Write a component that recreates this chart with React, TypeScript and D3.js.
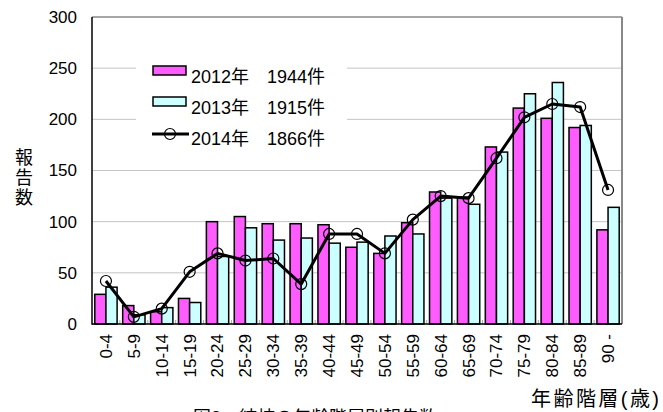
import React from "react";
import * as d3 from "d3";

const categories = ["0-4","5-9","10-14","15-19","20-24","25-29","30-34","35-39","40-44","45-49","50-54","55-59","60-64","65-69","70-74","75-79","80-84","85-89","90 -"];
const series2012 = [29,18,12,25,100,105,98,98,97,75,69,99,129,124,173,211,201,192,92];
const series2013 = [36,9,16,21,66,94,82,84,79,80,86,88,123,117,168,225,236,194,114];
const series2014 = [42,7,15,51,69,62,64,39,88,88,69,102,125,123,162,202,215,212,131];
const yTicks = [0,50,100,150,200,250,300];
const legendLabels = ["2012年　1944件","2013年　1915件","2014年　1866件"];

const W = 663, H = 412;
const M = { left: 92, right: 622, top: 17, bottom: 324 };
const PINK = "#FF5CFF";
const CYAN = "#CCFFFF";
const FONT = "'Liberation Sans', Arial, 'Noto Sans CJK JP', sans-serif";

export default function App() {
  const x = d3.scaleBand<string>().domain(categories).range([M.left, M.right]).paddingInner(0).paddingOuter(0);
  const y = d3.scaleLinear().domain([0, 300]).range([M.bottom, M.top]);
  const bw = x.bandwidth();
  const line = d3.line<number>()
    .x((_, i) => (x(categories[i]) as number) + bw / 2)
    .y((d) => y(d));

  return (
    <svg width={W} height={H} style={{ position: "absolute", left: 0, top: 0, background: "#fff" }} fontFamily={FONT}>
      <rect x={0} y={0} width={W} height={H} fill="#fff" />
      {/* grid */}
      {yTicks.filter((t) => t > 0 && t < 300).map((t) => (
        <line key={t} x1={M.left} x2={M.right} y1={y(t)} y2={y(t)} stroke="#c4c4c4" strokeWidth={1} />
      ))}
      {/* legend background */}
      <rect x={136} y={48} width={211} height={104} fill="#fff" />
      {/* bars */}
      {categories.map((c, i) => (
        <g key={c}>
          <rect x={(x(c) as number) + bw * 0.1} y={y(series2012[i])} width={bw * 0.4} height={y(0) - y(series2012[i])} fill={PINK} stroke="#000" strokeWidth={1.5} />
          <rect x={(x(c) as number) + bw * 0.5} y={y(series2013[i])} width={bw * 0.4} height={y(0) - y(series2013[i])} fill={CYAN} stroke="#000" strokeWidth={1.5} />
        </g>
      ))}
      {/* small category ticks */}
      {categories.slice(1).map((c) => (
        <line key={"t" + c} x1={x(c) as number} x2={x(c) as number} y1={M.bottom} y2={M.bottom - 4} stroke="#aaa" strokeWidth={1} />
      ))}
      {/* line */}
      <path d={line(series2014) || ""} fill="none" stroke="#000" strokeWidth={3} strokeLinejoin="round" />
      {series2014.map((v, i) => (
        <circle key={i} cx={(x(categories[i]) as number) + bw / 2} cy={y(v)} r={5.5} fill="none" stroke="#000" strokeWidth={1.2} />
      ))}
      {/* frame */}
      <line x1={M.left} x2={M.right} y1={M.top} y2={M.top} stroke="#888" strokeWidth={1.5} />
      <line x1={M.right} x2={M.right} y1={M.top} y2={M.bottom} stroke="#888" strokeWidth={2} />
      <line x1={M.left} x2={M.left} y1={M.top} y2={M.bottom + 0.75} stroke="#000" strokeWidth={1.5} />
      <line x1={M.left} x2={M.right} y1={M.bottom} y2={M.bottom} stroke="#000" strokeWidth={1.5} />
      {/* y tick labels */}
      {yTicks.map((t) => (
        <text key={t} x={77} y={y(t)} dy="0.35em" textAnchor="end" fontSize={17} fill="#000">{t}</text>
      ))}
      {/* x tick labels */}
      {categories.map((c) => (
        <text key={c} transform={`translate(${(x(c) as number) + bw / 2},334) rotate(-90)`} dy="0.35em" textAnchor="end" fontSize={17} fill="#000">{c}</text>
      ))}
      {/* legend */}
      <rect x={153} y={66} width={33} height={9} fill={PINK} stroke="#000" strokeWidth={1.5} />
      <text x={191} y={77} dy="0.35em" fontSize={18} fill="#000">{legendLabels[0]}</text>
      <rect x={153} y={97} width={33} height={9} fill={CYAN} stroke="#000" strokeWidth={1.5} />
      <text x={191} y={108} dy="0.35em" fontSize={18} fill="#000">{legendLabels[1]}</text>
      <line x1={152} x2={189} y1={134} y2={134} stroke="#000" strokeWidth={3} />
      <circle cx={170} cy={134} r={5.5} fill="none" stroke="#000" strokeWidth={1.2} />
      <text x={191} y={139} dy="0.35em" fontSize={18} fill="#000">{legendLabels[2]}</text>
      {/* y title */}
      {["報", "告", "数"].map((ch, i) => (
        <text key={ch} x={24} y={158 + i * 20} dy="0.35em" textAnchor="middle" fontSize={18} fill="#000">{ch}</text>
      ))}
      {/* x title */}
      <text x={531} y={406} fontSize={20} fill="#000" textLength={128} lengthAdjust="spacing">年齢階層(歳)</text>
      {/* caption (cut off at the bottom edge, as in the reference) */}
      <text x={193} y={424} fontSize={18} fill="#000">図3　結核の年齢階層別報告数</text>
    </svg>
  );
}
